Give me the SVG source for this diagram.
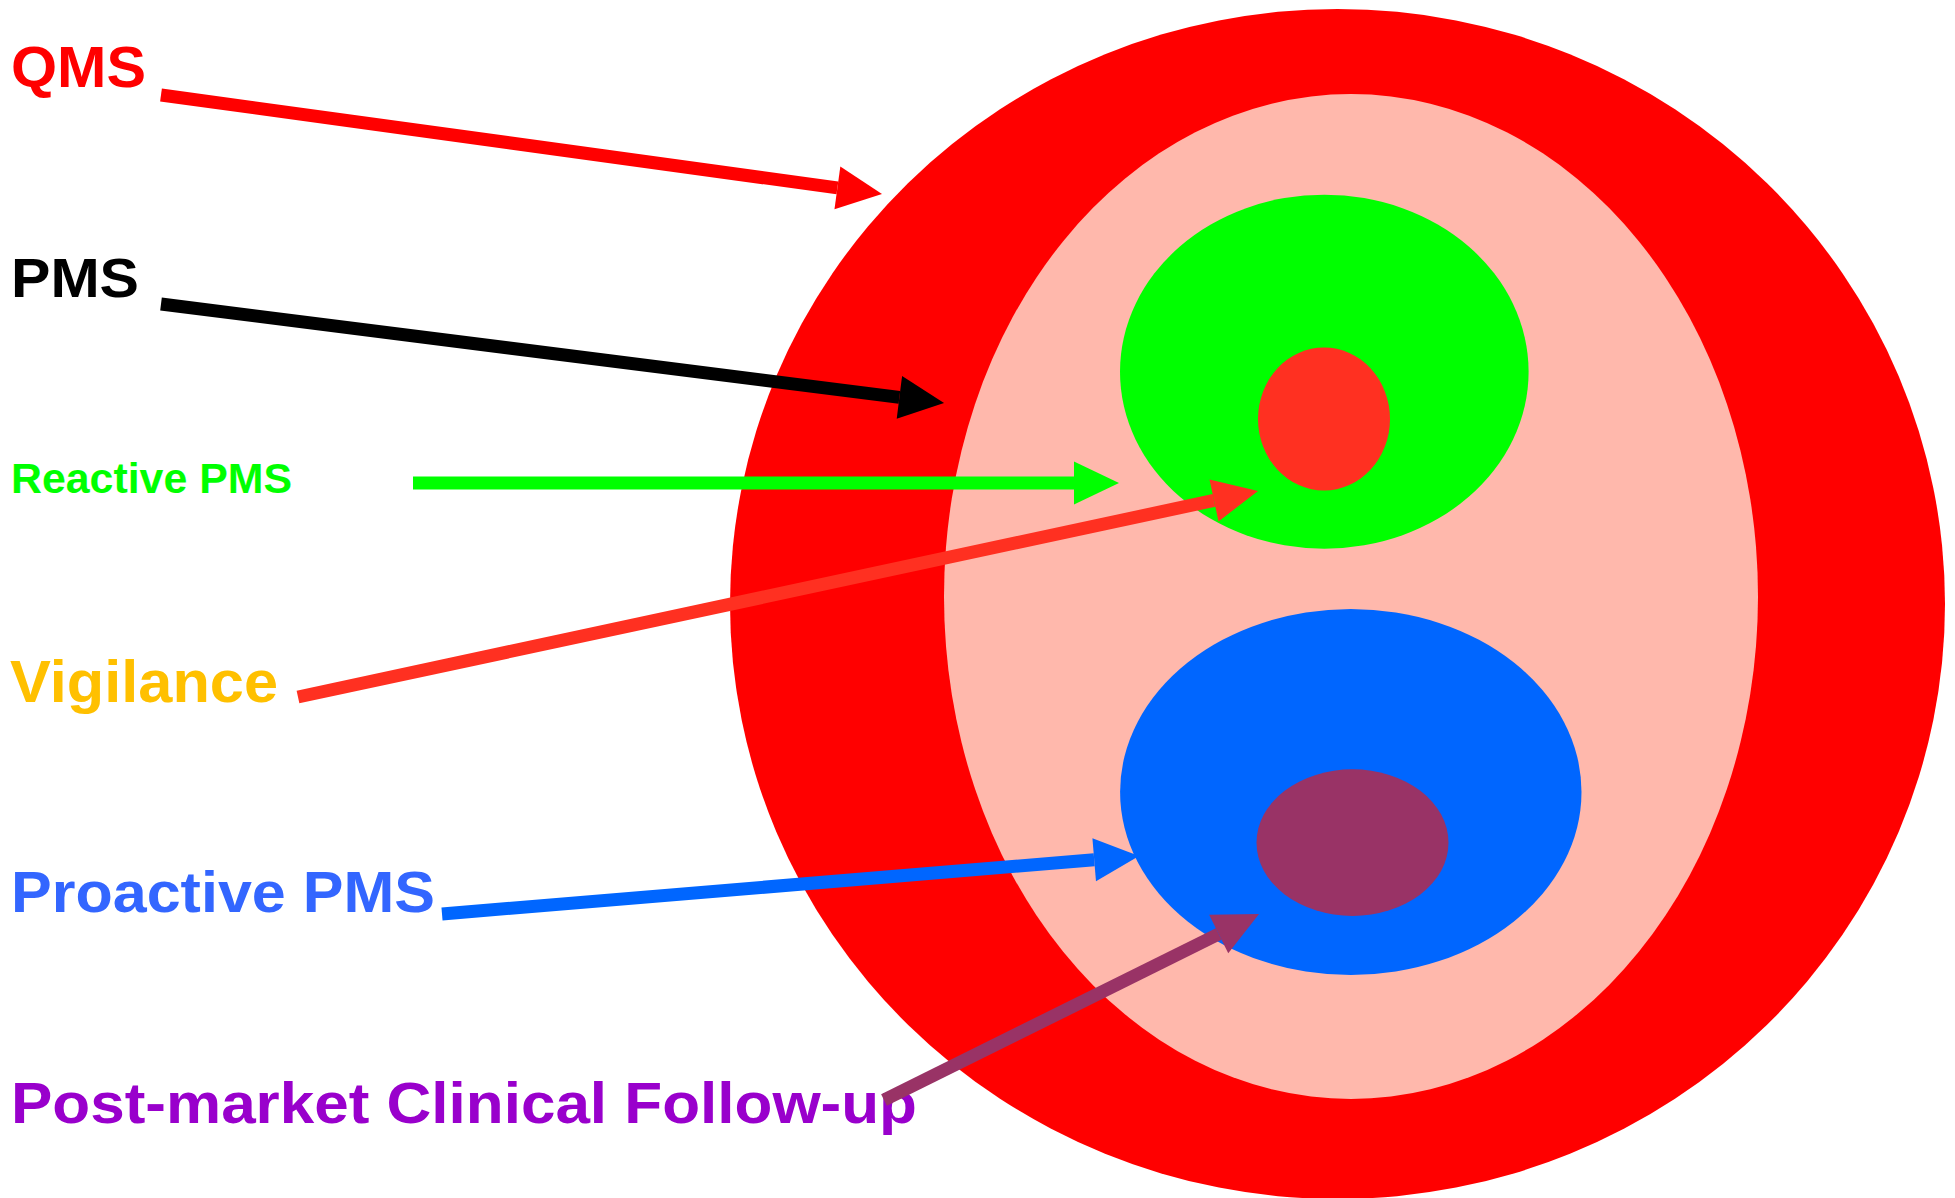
<svg xmlns="http://www.w3.org/2000/svg" width="1955" height="1198" viewBox="0 0 1955 1198">
<style>
.lbl{font-family:"Liberation Sans","Arial",sans-serif;font-weight:bold}
.conn{fill:none;stroke-width:13;stroke-linecap:butt}
</style>
<defs>
<marker id="hQ" markerUnits="userSpaceOnUse" markerWidth="46" markerHeight="44" refX="0" refY="21.5" orient="auto" overflow="visible"><path d="M0,0 L45,21.5 L0,43 z" fill="#FF0000"/></marker>
<marker id="hP" markerUnits="userSpaceOnUse" markerWidth="46" markerHeight="44" refX="0" refY="21.5" orient="auto" overflow="visible"><path d="M0,0 L45,21.5 L0,43 z" fill="#000000"/></marker>
<marker id="hR" markerUnits="userSpaceOnUse" markerWidth="46" markerHeight="44" refX="0" refY="21.5" orient="auto" overflow="visible"><path d="M0,0 L45,21.5 L0,43 z" fill="#00FF00"/></marker>
<marker id="hV" markerUnits="userSpaceOnUse" markerWidth="46" markerHeight="44" refX="0" refY="21.5" orient="auto" overflow="visible"><path d="M0,0 L45,21.5 L0,43 z" fill="#FF3021"/></marker>
<marker id="hB" markerUnits="userSpaceOnUse" markerWidth="46" markerHeight="44" refX="0" refY="21.5" orient="auto" overflow="visible"><path d="M0,0 L45,21.5 L0,43 z" fill="#0066FF"/></marker>
<marker id="hM" markerUnits="userSpaceOnUse" markerWidth="46" markerHeight="44" refX="0" refY="21.5" orient="auto" overflow="visible"><path d="M0,0 L45,21.5 L0,43 z" fill="#993366"/></marker>
</defs>
<rect width="1955" height="1198" fill="#FFFFFF"/>
<g id="qms"><ellipse cx="1337.5" cy="604" rx="607.5" ry="595" fill="#FF0000"/></g>
<g id="pms"><ellipse cx="1351" cy="596.5" rx="407" ry="502.5" fill="#FFB8AC"/></g>
<g id="reactive-pms"><ellipse cx="1324.3" cy="371.7" rx="204.3" ry="177" fill="#00FF00"/></g>
<g id="vigilance"><ellipse cx="1324" cy="419" rx="66" ry="71.5" fill="#FF3021"/></g>
<g id="proactive-pms"><ellipse cx="1350.8" cy="792" rx="230.7" ry="183" fill="#0066FF"/></g>
<g id="pmcf"><ellipse cx="1352.5" cy="842.6" rx="96" ry="73.3" fill="#993366"/></g>
<g id="labels">
<text class="lbl" x="11" y="87" font-size="57" fill="#FF0000" textLength="135" lengthAdjust="spacingAndGlyphs">QMS</text>
<text class="lbl" x="11" y="297" font-size="55" fill="#000000" textLength="128" lengthAdjust="spacingAndGlyphs">PMS</text>
<text class="lbl" x="11" y="493" font-size="42" fill="#00FF00" textLength="281" lengthAdjust="spacingAndGlyphs">Reactive PMS</text>
<text class="lbl" x="10" y="702" font-size="60" fill="#FFC000" textLength="268" lengthAdjust="spacingAndGlyphs">Vigilance</text>
<text class="lbl" x="11" y="912" font-size="57" fill="#3366FF" textLength="424" lengthAdjust="spacingAndGlyphs">Proactive PMS</text>
<text class="lbl" x="11" y="1123" font-size="58" fill="#9900CC" textLength="906" lengthAdjust="spacingAndGlyphs">Post-market Clinical Follow-up</text>
</g>
<g id="connectors">
<line class="conn" x1="161" y1="95" x2="837.4" y2="187.9" stroke="#FF0000" marker-end="url(#hQ)"/>
<line class="conn" x1="161" y1="304" x2="899.4" y2="397.4" stroke="#000000" stroke-width="14" marker-end="url(#hP)"/>
<line class="conn" x1="413" y1="483" x2="1074" y2="483" stroke="#00FF00" marker-end="url(#hR)"/>
<line class="conn" x1="298" y1="697" x2="1214" y2="500.4" stroke="#FF3021" marker-end="url(#hV)"/>
<line class="conn" x1="442" y1="914" x2="1094.2" y2="859.7" stroke="#0066FF" marker-end="url(#hB)"/>
<line class="conn" x1="884" y1="1100" x2="1218.7" y2="934" stroke="#993366" stroke-width="11" marker-end="url(#hM)"/>
</g>
</svg>
